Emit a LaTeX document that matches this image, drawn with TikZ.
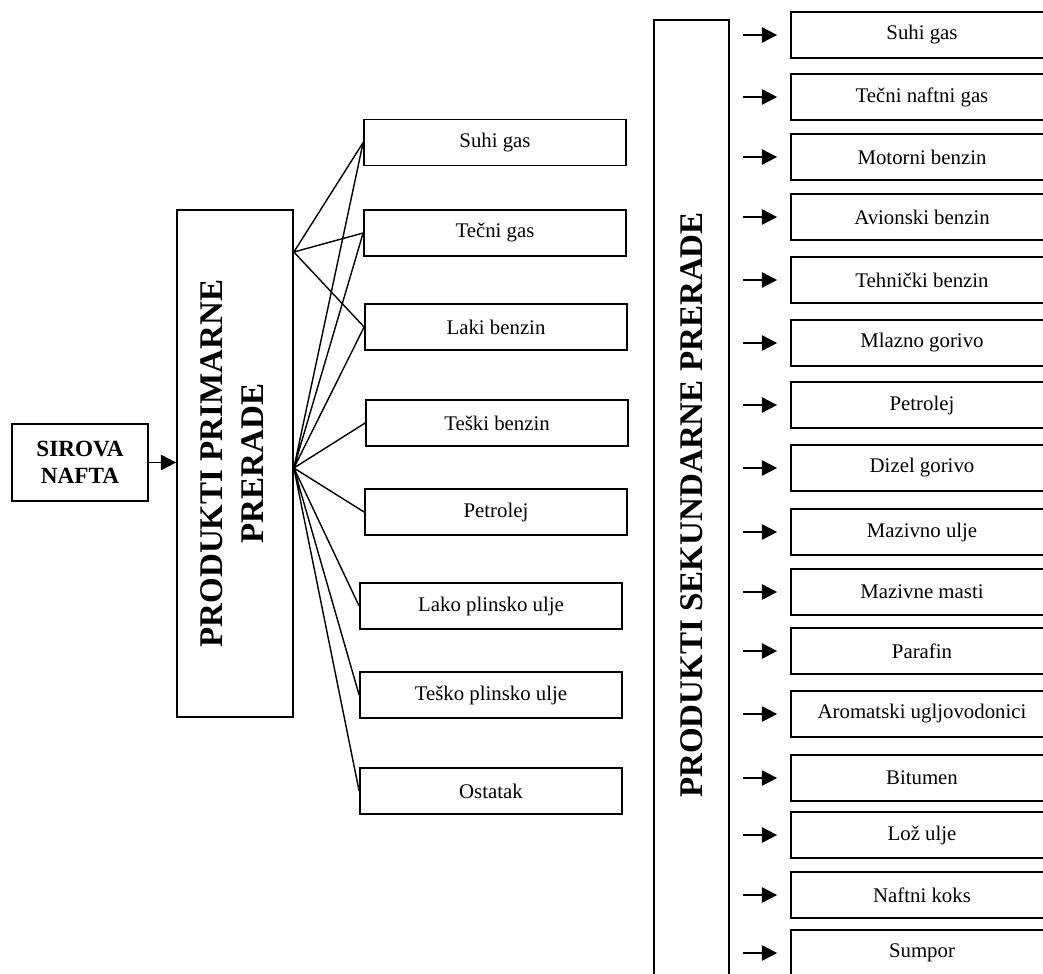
\documentclass[tikz,border=0pt]{standalone}
\usepackage{fontspec}
\setmainfont{Liberation Serif}
\usetikzlibrary{arrows.meta}

\begin{document}
\begin{tikzpicture}[x=0.025cm, y=-0.025cm,
    box/.style={draw, line width=1.2pt, minimum width=6.55cm, minimum height=1.15cm, inner sep=0pt, font=\fontsize{14.8}{17}\selectfont},
    fan/.style={line width=1pt},
    arr/.style={line width=1.4pt, -{Triangle[length=0.38cm, width=0.38cm]}},
    big/.style={font=\fontsize{23.5}{29}\selectfont}]
    \useasboundingbox (0,0) rectangle (1043,973);
    \clip (0,0) rectangle (1043,973);

    \node[draw, line width=1.2pt, minimum width=3.4cm, minimum height=1.925cm, align=center, font=\bfseries\fontsize{16.5}{19}\selectfont] (sir) at (80,462.5) {SIROVA\\NAFTA};

    \node[draw, line width=1.2pt, minimum width=2.9cm, minimum height=12.675cm, inner sep=0pt, big] (prim) at (235,463.5) {\rotatebox{90}{\bfseries\begin{tabular}{@{}c@{}}\bfseries PRODUKTI PRIMARNE\\\bfseries PRERADE\end{tabular}}};
    \draw[arr] (sir.east) -- (sir.east -| prim.west);

    \node[box] (p1) at (495,142.5) {Suhi gas};
    \node[box] (p2) at (495,233) {Tečni gas};
    \node[box] (p3) at (496,327) {Laki benzin};
    \node[box] (p4) at (497,423) {Teški benzin};
    \node[box] (p5) at (496,512) {Petrolej};
    \node[box] (p6) at (491,606) {Lako plinsko ulje};
    \node[box] (p7) at (491,695) {Teško plinsko ulje};
    \node[box] (p8) at (491,791) {Ostatak};

    \coordinate (f1) at (prim.east |- 0,252);
    \coordinate (f2) at (prim.east |- 0,468);
    \draw[fan] (f1) -- (p1.west) (f1) -- (p2.west) (f1) -- (p3.west);
    \draw[fan] (f2) -- (p1.west) (f2) -- (p2.west) (f2) -- (p3.west) (f2) -- (p4.west);
    \draw[fan] (f2) -- (p5.west) (f2) -- (p6.west) (f2) -- (p7.west) (f2) -- (p8.west);

    \node[draw, line width=0.9pt, minimum width=1.875cm, minimum height=24.25cm, inner sep=0pt, big] (sek) at (691.5,505) {\rotatebox{90}{\bfseries PRODUKTI SEKUNDARNE PRERADE}};

    \node[box] (s1) at (922,35) {Suhi gas};
    \node[box] (s2) at (922,97) {Tečni naftni gas};
    \node[box] (s3) at (922,157) {Motorni benzin};
    \node[box] (s4) at (922,217) {Avionski benzin};
    \node[box] (s5) at (922,280) {Tehnički benzin};
    \node[box] (s6) at (922,343) {Mlazno gorivo};
    \node[box] (s7) at (922,405) {Petrolej};
    \node[box] (s8) at (922,468) {Dizel gorivo};
    \node[box] (s9) at (922,532) {Mazivno ulje};
    \node[box] (s10) at (922,592) {Mazivne masti};
    \node[box] (s11) at (922,651) {Parafin};
    \node[box] (s12) at (922,714) {Aromatski ugljovodonici};
    \node[box] (s13) at (922,778) {Bitumen};
    \node[box] (s14) at (922,835) {Lož ulje};
    \node[box] (s15) at (922,895) {Naftni koks};
    \node[box] (s16) at (922,953) {Sumpor};

    \draw[arr, shorten <=0.325cm, shorten >=0.325cm] (sek.east |- s1) -- (s1.west);
    \draw[arr, shorten <=0.325cm, shorten >=0.325cm] (sek.east |- s2) -- (s2.west);
    \draw[arr, shorten <=0.325cm, shorten >=0.325cm] (sek.east |- s3) -- (s3.west);
    \draw[arr, shorten <=0.325cm, shorten >=0.325cm] (sek.east |- s4) -- (s4.west);
    \draw[arr, shorten <=0.325cm, shorten >=0.325cm] (sek.east |- s5) -- (s5.west);
    \draw[arr, shorten <=0.325cm, shorten >=0.325cm] (sek.east |- s6) -- (s6.west);
    \draw[arr, shorten <=0.325cm, shorten >=0.325cm] (sek.east |- s7) -- (s7.west);
    \draw[arr, shorten <=0.325cm, shorten >=0.325cm] (sek.east |- s8) -- (s8.west);
    \draw[arr, shorten <=0.325cm, shorten >=0.325cm] (sek.east |- s9) -- (s9.west);
    \draw[arr, shorten <=0.325cm, shorten >=0.325cm] (sek.east |- s10) -- (s10.west);
    \draw[arr, shorten <=0.325cm, shorten >=0.325cm] (sek.east |- s11) -- (s11.west);
    \draw[arr, shorten <=0.325cm, shorten >=0.325cm] (sek.east |- s12) -- (s12.west);
    \draw[arr, shorten <=0.325cm, shorten >=0.325cm] (sek.east |- s13) -- (s13.west);
    \draw[arr, shorten <=0.325cm, shorten >=0.325cm] (sek.east |- s14) -- (s14.west);
    \draw[arr, shorten <=0.325cm, shorten >=0.325cm] (sek.east |- s15) -- (s15.west);
    \draw[arr, shorten <=0.325cm, shorten >=0.325cm] (sek.east |- s16) -- (s16.west);
\end{tikzpicture}
\end{document}
